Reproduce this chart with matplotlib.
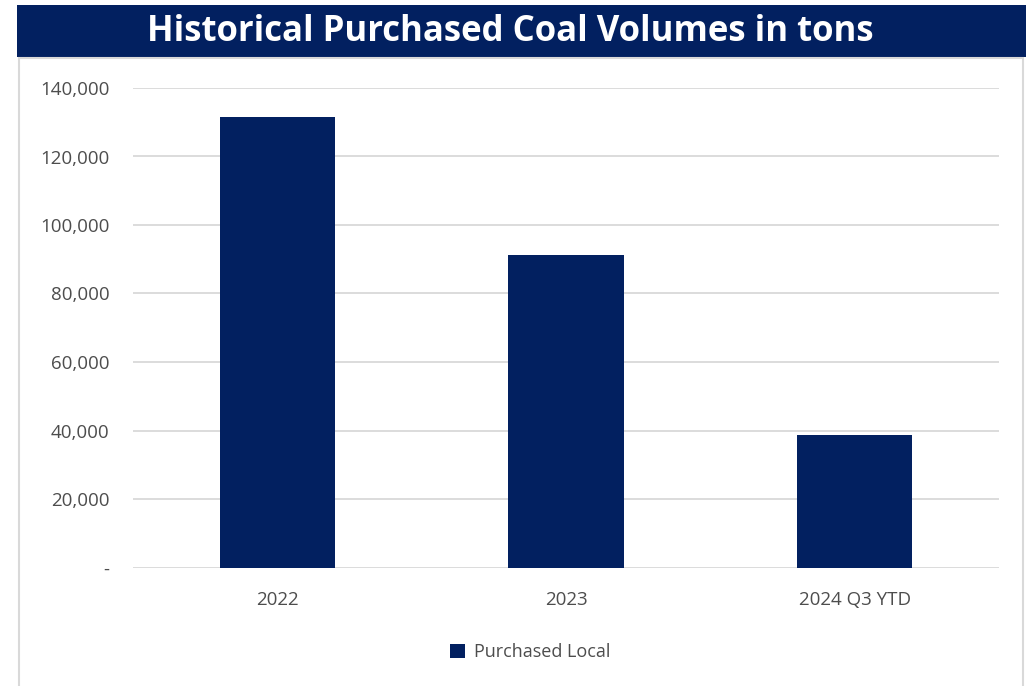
import matplotlib.pyplot as plt
from matplotlib.patches import Rectangle
from matplotlib.ticker import FuncFormatter

categories = ['2022', '2023', '2024 Q3 YTD']
purchased_local = [131500, 91200, 38800]
series_name = 'Purchased Local'
title = 'Historical Purchased Coal Volumes in tons'

navy = '#022060'
grey_text = '#4d4d4d'

plt.rcParams['font.family'] = ['Open Sans', 'DejaVu Sans']

fig = plt.figure(figsize=(10.26, 6.86), dpi=100)
W, H = 1026, 686

# title banner and white panel with light border
fig.patches.append(Rectangle((17 / W, 1 - 57 / H), 1 - 17 / W, 52 / H,
                             transform=fig.transFigure, facecolor=navy,
                             edgecolor='none', zorder=-2))
fig.patches.append(Rectangle((18.5 / W, -0.01), (1023 - 18.5) / W, 1 - 58 / H + 0.01,
                             transform=fig.transFigure, facecolor='white',
                             edgecolor='#d9d9d9', linewidth=1.5, zorder=-2))
fig.text(510 / W, 1 - 32 / H, title, ha='center', va='center',
         color='white', fontsize=25, fontweight='bold')

ax = fig.add_axes([133 / W, 1 - 567.5 / H, (999 - 133) / W, (567.5 - 88) / H])
ax.set_zorder(2)
ax.set_facecolor('none')
x = range(len(categories))
ax.bar(x, purchased_local, width=0.4, color=navy, label=series_name, zorder=3)
ax.set_xlim(-0.5, 2.5)
ax.set_ylim(0, 140000)
ax.set_yticks(range(0, 140001, 20000))
ax.yaxis.set_major_formatter(FuncFormatter(lambda v, p: '-' if v == 0 else f'{v:,.0f}'))
ax.set_xticks(list(x))
ax.set_xticklabels(categories)
ax.grid(axis='y', color='#d9d9d9', linewidth=1.3, zorder=0)
for s in ax.spines.values():
    s.set_visible(False)
ax.tick_params(axis='both', length=0, colors=grey_text, labelsize=13.5)
ax.tick_params(axis='y', pad=17)
ax.tick_params(axis='x', pad=17)

leg = fig.legend(loc='center', bbox_to_anchor=(530 / W, 1 - 652 / H), frameon=False,
                 handlelength=0.8, handleheight=0.8, handletextpad=0.5,
                 fontsize=13)
for t in leg.get_texts():
    t.set_color(grey_text)

fig.savefig('out.png', dpi=100)
